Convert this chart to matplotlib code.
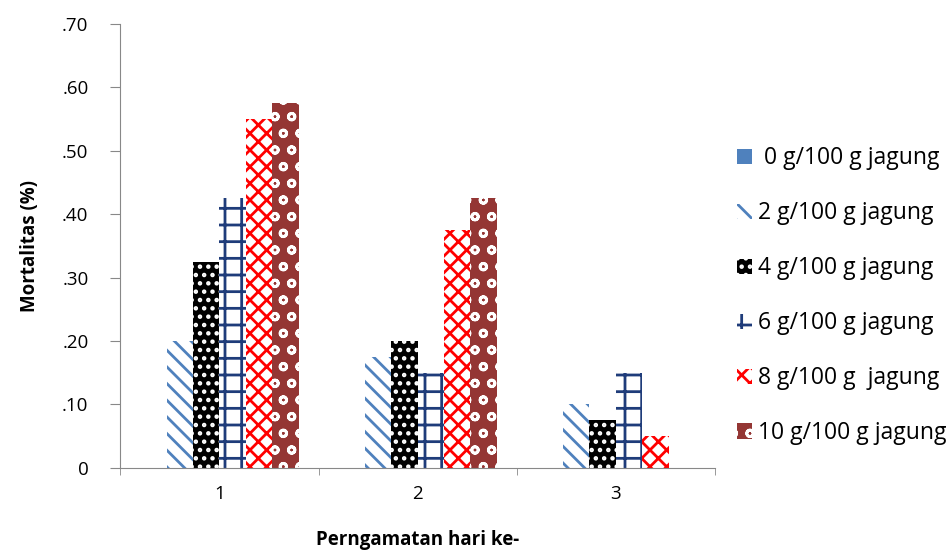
import numpy as np
import matplotlib.pyplot as plt
from matplotlib.patches import Patch
from matplotlib.ticker import FixedLocator

plt.rcParams['font.family'] = ['Open Sans', 'DejaVu Sans']
plt.rcParams['hatch.linewidth'] = 2.0

# data
days = ['1', '2', '3']
labels = [' 0 g/100 g jagung', '2 g/100 g jagung', '4 g/100 g jagung',
          '6 g/100 g jagung', '8 g/100 g  jagung', '10 g/100 g jagung']
dose_0 = [0.0, 0.0, 0.0]
dose_2 = [0.20, 0.175, 0.10]
dose_4 = [0.325, 0.20, 0.075]
dose_6 = [0.425, 0.15, 0.15]
dose_8 = [0.55, 0.375, 0.05]
dose_10 = [0.575, 0.425, 0.0]
series = [dose_0, dose_2, dose_4, dose_6, dose_8, dose_10]

yticks = [0, 0.1, 0.2, 0.3, 0.4, 0.5, 0.6, 0.7]
ytick_labels = ['0', '.10', '.20', '.30', '.40', '.50', '.60', '.70']

# style: (face, hatch colour, hatch)
styles = [
    ('#4F81BD', '#4F81BD', None),
    ('white', '#4F81BD', '\\\\'),
    ('black', 'white', '..'),
    ('white', '#1F3C7A', '+'),
    ('white', '#FF0000', 'xx'),
    ('#943634', 'white', 'o'),
]

fig = plt.figure(figsize=(9.48, 5.55), dpi=100)
ax = fig.add_axes([0.127, 0.157, 0.627, 0.800])

x = np.arange(len(days))
w = 0.8 / len(series)
for i, vals in enumerate(series):
    face, hc, hatch = styles[i]
    ax.bar(x - 0.4 + w * (i + 0.5), vals, w, color=face, edgecolor=hc,
           hatch=hatch, linewidth=0)

ax.set_xlim(-0.5, 2.5)
ax.set_ylim(0, 0.7)
ax.set_yticks(yticks)
ax.set_yticklabels(ytick_labels, fontsize=13.5)
ax.set_xticks(x)
ax.set_xticklabels(days, fontsize=13.5)
ax.xaxis.set_minor_locator(FixedLocator([-0.5, 0.5, 1.5, 2.5]))
ax.tick_params(axis='x', which='major', length=0, pad=12)
ax.tick_params(axis='x', which='minor', length=5, color='#888888')
ax.tick_params(axis='y', length=7, color='#888888', pad=16)
for s in ['top', 'right']:
    ax.spines[s].set_visible(False)
for s in ['left', 'bottom']:
    ax.spines[s].set_color('#888888')

ax.set_ylabel('Mortalitas (%)', fontsize=13.5, fontweight='bold', labelpad=16)
ax.set_xlabel('Perngamatan hari ke-', fontsize=13.5, fontweight='bold', labelpad=20)

handles = []
for i in range(len(series)):
    face, hc, hatch = styles[i]
    handles.append(Patch(facecolor=face, edgecolor=hc, hatch=hatch, linewidth=0))
fig.legend(handles, labels, loc='center left', bbox_to_anchor=(0.756, 0.467),
           frameon=False, fontsize=16.5, handlelength=0.65, handleheight=0.65,
           handletextpad=0.25, labelspacing=1.35)

fig.savefig('out.png', dpi=100)
